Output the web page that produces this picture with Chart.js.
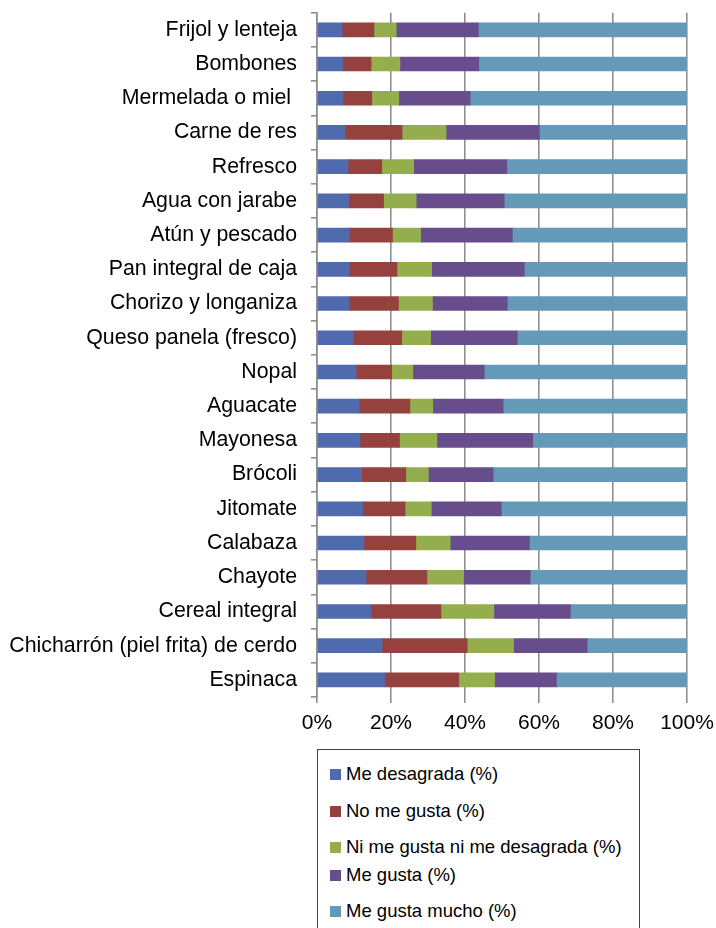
<!DOCTYPE html>
<html>
<head>
<meta charset="utf-8">
<script src="https://cdn.jsdelivr.net/npm/chart.js@4"></script>
<style>
  html, body { margin: 0; padding: 0; background: #fff; }
  #wrap { position: relative; width: 716px; height: 928px; overflow: hidden; }
  #chart { position: absolute; left: 0; top: 0; }
  #legend {
    position: absolute; left: 317px; top: 749px; width: 323px; height: 200px;
    border: 1px solid #444; box-sizing: border-box;
    font-family: "Liberation Sans", Arial, sans-serif; font-size: 18.5px; color: #000;
  }
  .item { position: absolute; left: 12px; display: flex; align-items: center; white-space: nowrap; }
  .sw { width: 11px; height: 11px; margin-right: 5px; }
</style>
</head>
<body>
<div id="wrap">
  <canvas id="chart" width="716" height="740"></canvas>
  <div id="legend"></div>
</div>
<script>
'use strict';

/* ---- data (top to bottom) ---- */
const categories = [
  'Frijol y lenteja', 'Bombones', 'Mermelada o miel ', 'Carne de res', 'Refresco',
  'Agua con jarabe', 'Atún y pescado', 'Pan integral de caja', 'Chorizo y longaniza',
  'Queso panela (fresco)', 'Nopal', 'Aguacate', 'Mayonesa', 'Brócoli', 'Jitomate',
  'Calabaza', 'Chayote', 'Cereal integral', 'Chicharrón (piel frita) de cerdo', 'Espinaca'
];

const meDesagrada = [6.8, 7.0, 7.0, 7.6, 8.4, 8.5, 8.7, 8.7, 8.7, 9.8,
                     10.6, 11.4, 11.6, 12.0, 12.4, 12.7, 13.3, 14.6, 17.6, 18.3];
const noMeGusta   = [8.6, 7.6, 7.8, 15.4, 9.1, 9.5, 11.7, 12.9, 13.3, 13.1,
                     9.6, 13.7, 10.7, 12.0, 11.4, 14.0, 16.4, 18.9, 23.0, 20.0];
const niNi        = [6.0, 7.8, 7.3, 11.9, 8.6, 8.8, 7.6, 9.4, 9.2, 7.8,
                     5.7, 6.2, 10.1, 6.1, 7.1, 9.3, 9.9, 14.3, 12.5, 9.7];
const meGusta     = [22.2, 21.3, 19.3, 25.2, 25.2, 23.8, 24.8, 25.0, 20.2, 23.4,
                     19.3, 19.0, 25.9, 17.5, 18.9, 21.4, 18.0, 20.7, 19.9, 16.7];
const meGustaMucho = [56.4, 56.3, 58.6, 39.9, 48.7, 49.4, 47.2, 44.0, 48.6, 45.9,
                      54.8, 49.7, 41.7, 52.4, 50.2, 42.6, 42.4, 31.5, 27.0, 35.3];

const seriesNames = ['Me desagrada (%)', 'No me gusta (%)', 'Ni me gusta ni me desagrada (%)',
                     'Me gusta (%)', 'Me gusta mucho (%)'];
const xTicks = [0, 20, 40, 60, 80, 100];

/* ---- styling ---- */
const COLORS = ['#506AAE', '#95423F', '#94AE4E', '#674D8C', '#6499B7'];
const GRID = '#8f8f8f';
const FONT = "'Liberation Sans', Arial, sans-serif";

const seriesValues = [meDesagrada, noMeGusta, niNi, meGusta, meGustaMucho];

const datasets = seriesValues.map((vals, i) => ({
  label: seriesNames[i],
  data: vals,
  backgroundColor: COLORS[i],
  borderWidth: 0,
  barThickness: 14,
}));

new Chart(document.getElementById('chart'), {
  type: 'bar',
  data: { labels: categories, datasets },
  options: {
    indexAxis: 'y',
    responsive: false,
    animation: false,
    layout: { padding: { top: 12.7, right: 29, left: 0, bottom: 0 } },
    plugins: { legend: { display: false }, tooltip: { enabled: false } },
    scales: {
      x: {
        stacked: true,
        min: 0, max: 100,
        afterBuildTicks: s => { s.ticks = xTicks.map(v => ({ value: v })); },
        afterFit: s => {
          s.height = 43;
          s.paddingLeft = 0; s.paddingRight = 0;
        },
        grid: { color: GRID, lineWidth: 1.6, tickLength: 6, drawTicks: true },
        border: { display: false },
        ticks: {
          color: '#000', padding: 8,
          font: { family: FONT, size: 21 },
          callback: v => v + '%'
        }
      },
      y: {
        stacked: true,
        afterFit: s => {
          s.width = 317;
          s.paddingTop = 0; s.paddingBottom = 0;
        },
        grid: { drawOnChartArea: false, drawTicks: true, tickLength: 6, offset: true,
                color: GRID, lineWidth: 1.6 },
        border: { color: GRID, width: 1.6 },
        ticks: {
          color: '#000', padding: 14,
          font: { family: FONT, size: 21.3 }
        }
      }
    }
  }
});

/* ---- legend box ---- */
const legendRows = [24, 61, 97, 125, 161];
const legend = document.getElementById('legend');
seriesNames.forEach((name, i) => {
  const row = document.createElement('div');
  row.className = 'item';
  row.style.top = (legendRows[i] - 11) + 'px';
  row.style.height = '22px';
  row.innerHTML = '<span class="sw" style="background:' + COLORS[i] + '"></span><span>' + name + '</span>';
  legend.appendChild(row);
});
</script>
</body>
</html>
